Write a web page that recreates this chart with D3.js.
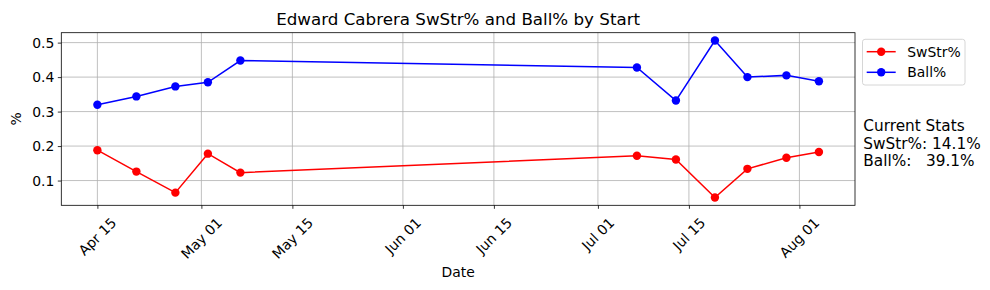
<!DOCTYPE html>
<html lang="en">
<head>
<meta charset="UTF-8">
<title>Edward Cabrera SwStr% and Ball% by Start</title>
<script src="https://cdnjs.cloudflare.com/ajax/libs/d3/7.8.4/d3.min.js"></script>
<style>
  body { margin: 0; background: #fff; }
  svg text { font-family: "DejaVu Sans", sans-serif; fill: #000; }
</style>
</head>
<body>
<div id="chart"></div>
<script>
// start dates (2023 season) and per-start rates
const startDates = ["2023-04-15", "2023-04-21", "2023-04-27", "2023-05-02", "2023-05-07",
  "2023-07-07", "2023-07-13", "2023-07-19", "2023-07-24", "2023-07-30", "2023-08-04"];
const swstrValues = [0.188, 0.126, 0.065, 0.178, 0.123, 0.172, 0.161, 0.051, 0.134, 0.166, 0.183];
const ballValues = [0.320, 0.344, 0.373, 0.385, 0.448, 0.428, 0.332, 0.506, 0.400, 0.405, 0.388];
const yTicks = [0.1, 0.2, 0.3, 0.4, 0.5];
const xTicks = ["2023-04-15", "2023-05-01", "2023-05-15", "2023-06-01", "2023-06-15",
  "2023-07-01", "2023-07-15", "2023-08-01"];
const seriesNames = ["SwStr%", "Ball%"];
const seriesColors = ["#ff0000", "#0000ff"];
const statsLines = ["Current Stats", "SwStr%: 14.1%", "Ball%:   39.1%"];

const w = 990, h = 290;
const pLeft = 61.3, pRight = 855, pTop = 32.7, pBottom = 205.3;
const parse = d3.utcParse("%Y-%m-%d");
const dates = startDates.map(parse);

const svg = d3.select("#chart").append("svg")
  .attr("width", w).attr("height", h);

// 5% margins like matplotlib
const ext = d3.extent(dates);
const span = ext[1] - ext[0];
const xScale = d3.scaleUtc()
  .domain([new Date(+ext[0] - span * 0.05), new Date(+ext[1] + span * 0.05)])
  .range([pLeft, pRight]);

const allVals = swstrValues.concat(ballValues);
const yMin = d3.min(allVals), yMax = d3.max(allVals);
const ySpan = yMax - yMin;
const yScale = d3.scaleLinear()
  .domain([yMin - ySpan * 0.05, yMax + ySpan * 0.05])
  .range([pBottom, pTop]);

// grid
svg.append("g").selectAll("line").data(xTicks.map(parse)).enter().append("line")
  .attr("x1", d => xScale(d)).attr("x2", d => xScale(d))
  .attr("y1", pTop).attr("y2", pBottom)
  .attr("stroke", "#b0b0b0").attr("stroke-width", 0.8);
svg.append("g").selectAll("line").data(yTicks).enter().append("line")
  .attr("x1", pLeft).attr("x2", pRight)
  .attr("y1", d => yScale(d)).attr("y2", d => yScale(d))
  .attr("stroke", "#b0b0b0").attr("stroke-width", 0.8);

// axes
const xAxis = d3.axisBottom(xScale).tickValues(xTicks.map(parse))
  .tickSize(3.5).tickFormat("");
const gx = svg.append("g")
  .attr("transform", "translate(0," + pBottom + ")")
  .call(xAxis);
gx.select(".domain").remove();
gx.selectAll(".tick line").attr("stroke", "#000").attr("stroke-width", 0.8);

const yAxis = d3.axisLeft(yScale).tickValues(yTicks).tickSize(3.5).tickPadding(3.5)
  .tickFormat(d3.format(".1f"));
const gy = svg.append("g")
  .attr("transform", "translate(" + pLeft + ",0)")
  .call(yAxis);
gy.select(".domain").remove();
gy.selectAll(".tick line").attr("stroke", "#000").attr("stroke-width", 0.8);
gy.selectAll(".tick text").attr("font-size", "13.9px").attr("font-family", "DejaVu Sans")
  .attr("fill", "#000");

// rotated x labels, bbox centred on the tick
const fmt = d3.utcFormat("%b %d");
const xl = svg.append("g");
xTicks.map(parse).forEach(d => {
  const t = xl.append("text")
    .attr("font-size", "13.9px")
    .attr("text-anchor", "middle")
    .attr("dominant-baseline", "central")
    .text(fmt(d));
  const tw = t.node().getComputedTextLength();
  const th = 11;
  const half = (tw + th) * Math.SQRT1_2 / 2;
  t.attr("transform", "translate(" + xScale(d) + "," + (pBottom + 11 + half) + ") rotate(-45)");
});

// frame
svg.append("rect")
  .attr("x", pLeft).attr("y", pTop)
  .attr("width", pRight - pLeft).attr("height", pBottom - pTop)
  .attr("fill", "none").attr("stroke", "#000").attr("stroke-width", 0.8);

// series
const series = [swstrValues, ballValues];
series.forEach((vals, i) => {
  const pts = vals.map((v, j) => [dates[j], v]);
  svg.append("path")
    .datum(pts)
    .attr("fill", "none")
    .attr("stroke", seriesColors[i])
    .attr("stroke-width", 1.5)
    .attr("d", d3.line().x(d => xScale(d[0])).y(d => yScale(d[1])));
  svg.append("g").selectAll("circle").data(pts).enter().append("circle")
    .attr("cx", d => xScale(d[0])).attr("cy", d => yScale(d[1]))
    .attr("r", 4.2).attr("fill", seriesColors[i]);
});

// title & labels
svg.append("text")
  .attr("x", (pLeft + pRight) / 2).attr("y", 24.5)
  .attr("text-anchor", "middle").attr("font-size", "16.7px")
  .text("Edward Cabrera SwStr% and Ball% by Start");
svg.append("text")
  .attr("x", (pLeft + pRight) / 2).attr("y", 276.5)
  .attr("text-anchor", "middle").attr("font-size", "13.9px")
  .text("Date");
svg.append("text")
  .attr("transform", "translate(21," + ((pTop + pBottom) / 2) + ") rotate(-90)")
  .attr("text-anchor", "middle").attr("font-size", "13.9px")
  .text("%");

// legend
const lg = svg.append("g");
lg.append("rect")
  .attr("x", 862.5).attr("y", 39.3).attr("width", 102.5).attr("height", 45.7)
  .attr("rx", 2.5).attr("fill", "#fff").attr("fill-opacity", 0.8)
  .attr("stroke", "#cccccc").attr("stroke-width", 0.8);
seriesNames.forEach((name, i) => {
  const cy = 51.7 + i * 20.6;
  lg.append("line").attr("x1", 866.7).attr("x2", 895.7).attr("y1", cy).attr("y2", cy)
    .attr("stroke", seriesColors[i]).attr("stroke-width", 1.5);
  lg.append("circle").attr("cx", 881.2).attr("cy", cy).attr("r", 4.2).attr("fill", seriesColors[i]);
  lg.append("text").attr("x", 907.3).attr("y", cy + 5).attr("font-size", "13.9px").text(name);
});

// current stats text
statsLines.forEach((s, i) => {
  svg.append("text")
    .attr("x", 863.3).attr("y", 131.3 + i * 17.4)
    .attr("font-size", "15.3px")
    .style("white-space", "pre")
    .text(s);
});
</script>
</body>
</html>
